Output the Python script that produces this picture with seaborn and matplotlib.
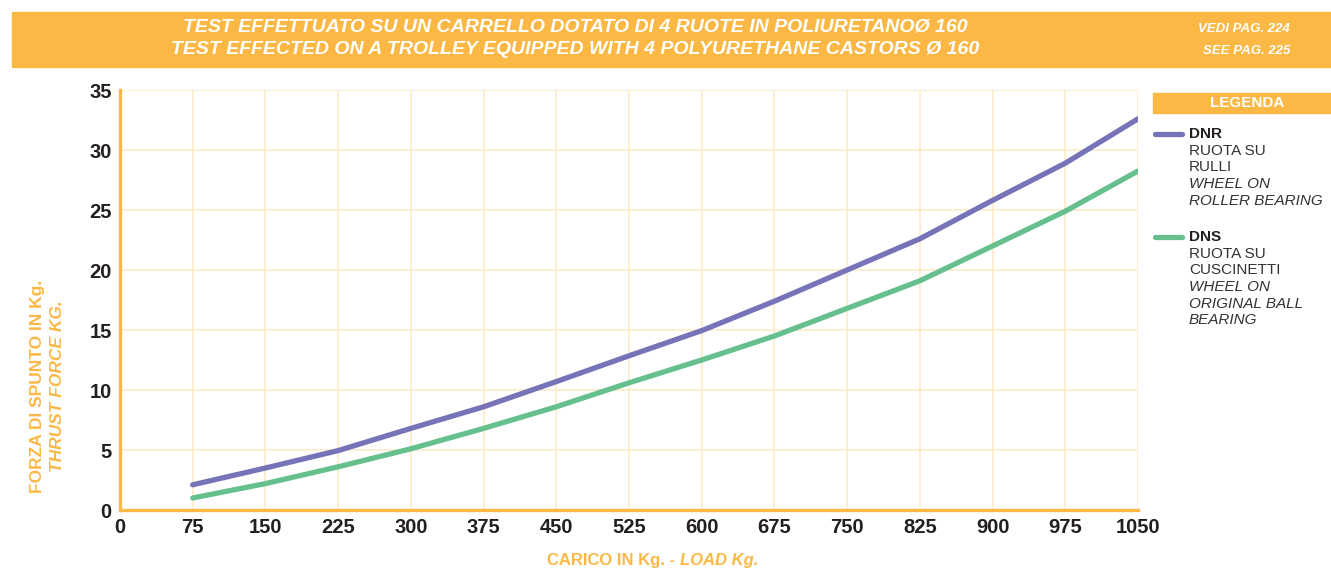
import pandas as pd
import numpy as np
import seaborn as sns
import matplotlib.pyplot as plt
from matplotlib.patches import Rectangle

# values
load = [75, 150, 225, 300, 375, 450, 525, 600, 675, 750, 825, 900, 975, 1050]
dnr = [2.1, 3.5, 4.95, 6.8, 8.6, 10.7, 12.85, 14.95, 17.4, 20.0, 22.6, 25.8, 28.9, 32.6]
dns = [1.0, 2.2, 3.6, 5.1, 6.8, 8.6, 10.6, 12.5, 14.5, 16.8, 19.1, 22.0, 24.9, 28.25]
series = ["DNR", "DNS"]
x_ticks = list(range(0, 1051, 75))
y_ticks = list(range(0, 36, 5))

ORANGE = "#fbb845"
GRID = "#fdebc8"
colors = {"DNR": "#7773b8", "DNS": "#66c08e"}

df = pd.DataFrame({
    "load": load * 2,
    "force": dnr + dns,
    "serie": [series[0]] * len(load) + [series[1]] * len(load),
})

sns.set_style("white")
plt.rcParams["font.family"] = ["Liberation Sans", "DejaVu Sans"]

fig = plt.figure(figsize=(13.31, 5.79), dpi=100)
W, H = 1331, 579
ax = fig.add_axes([120 / W, 1 - 510 / H, (1138 - 120) / W, (510 - 90) / H])

sns.lineplot(data=df, x="load", y="force", hue="serie", palette=colors,
             linewidth=3.8, legend=False, ax=ax, zorder=3)

ax.set_xlim(0, 1050)
ax.set_ylim(0, 35)
ax.set_xticks(x_ticks)
ax.set_yticks(y_ticks)
ax.grid(True, color=GRID, linewidth=1.2, zorder=0)
for s in ["top", "right"]:
    ax.spines[s].set_visible(False)
for s in ["left", "bottom"]:
    ax.spines[s].set_color(ORANGE)
    ax.spines[s].set_linewidth(2.4)
ax.tick_params(length=0, labelsize=14.5, pad=6)
for lab in ax.get_xticklabels() + ax.get_yticklabels():
    lab.set_fontweight("bold")
    lab.set_color("#231f20")
ax.set_xlabel("")
ax.set_ylabel("")

# header band
fig.patches.append(Rectangle((12 / W, 1 - 67 / H), 1 - 12 / W, 55 / H,
                             transform=fig.transFigure, color=ORANGE, zorder=0))
hdr = dict(color="white", fontweight="bold", fontstyle="italic", ha="center", va="center")
fig.text(575 / W, 1 - 27 / H, "TEST EFFETTUATO SU UN CARRELLO DOTATO DI 4 RUOTE IN POLIURETANOØ 160",
         fontsize=14, **hdr)
fig.text(575 / W, 1 - 49 / H, "TEST EFFECTED ON A TROLLEY EQUIPPED WITH 4 POLYURETHANE CASTORS Ø 160",
         fontsize=14, **hdr)
hdr["ha"] = "right"
fig.text(1290 / W, 1 - 29 / H, "VEDI PAG. 224", fontsize=9.5, **hdr)
fig.text(1290 / W, 1 - 51 / H, "SEE PAG. 225", fontsize=9.5, **hdr)

# axis titles
fig.text(38 / W, 1 - 386 / H, "FORZA DI SPUNTO IN Kg.", rotation=90, color=ORANGE,
         fontweight="bold", fontsize=12.5, ha="center", va="center")
fig.text(58 / W, 1 - 386 / H, "THRUST FORCE KG.", rotation=90, color=ORANGE,
         fontweight="bold", fontstyle="italic", fontsize=12.5, ha="center", va="center")
fig.text(680 / W, 1 - 561 / H, "CARICO IN Kg. - ", color=ORANGE, fontweight="bold",
         fontsize=12, ha="right", va="center")
fig.text(680 / W, 1 - 561 / H, "LOAD Kg.", color=ORANGE, fontweight="bold",
         fontstyle="italic", fontsize=12, ha="left", va="center")

# legend
fig.patches.append(Rectangle((1153 / W, 1 - 113 / H), (W - 1153) / W, 20 / H,
                             transform=fig.transFigure, color=ORANGE, zorder=0))
fig.text(1247 / W, 1 - 103 / H, "LEGENDA", color="white", fontweight="bold",
         fontsize=11, ha="center", va="center")

entries = [
    ("DNR", 134, ["RUOTA SU", "RULLI"], ["WHEEL ON", "ROLLER BEARING"]),
    ("DNS", 237, ["RUOTA SU", "CUSCINETTI"], ["WHEEL ON", "ORIGINAL BALL", "BEARING"]),
]
for name, y0, it_lines, en_lines in entries:
    fig.add_artist(plt.Line2D([1155 / W, 1182 / W], [1 - y0 / H, 1 - y0 / H],
                              color=colors[name], linewidth=3.8, transform=fig.transFigure))
    fig.text(1189 / W, 1 - y0 / H, name, fontweight="bold", fontsize=11,
             color="#231f20", va="center")
    y = y0
    for t in it_lines:
        y += 16.7
        fig.text(1189 / W, 1 - y / H, t, fontsize=11, color="#333333", va="center")
    for t in en_lines:
        y += 16.7
        fig.text(1189 / W, 1 - y / H, t, fontsize=11, color="#333333",
                 fontstyle="italic", va="center")

fig.savefig("out.png", dpi=100)
